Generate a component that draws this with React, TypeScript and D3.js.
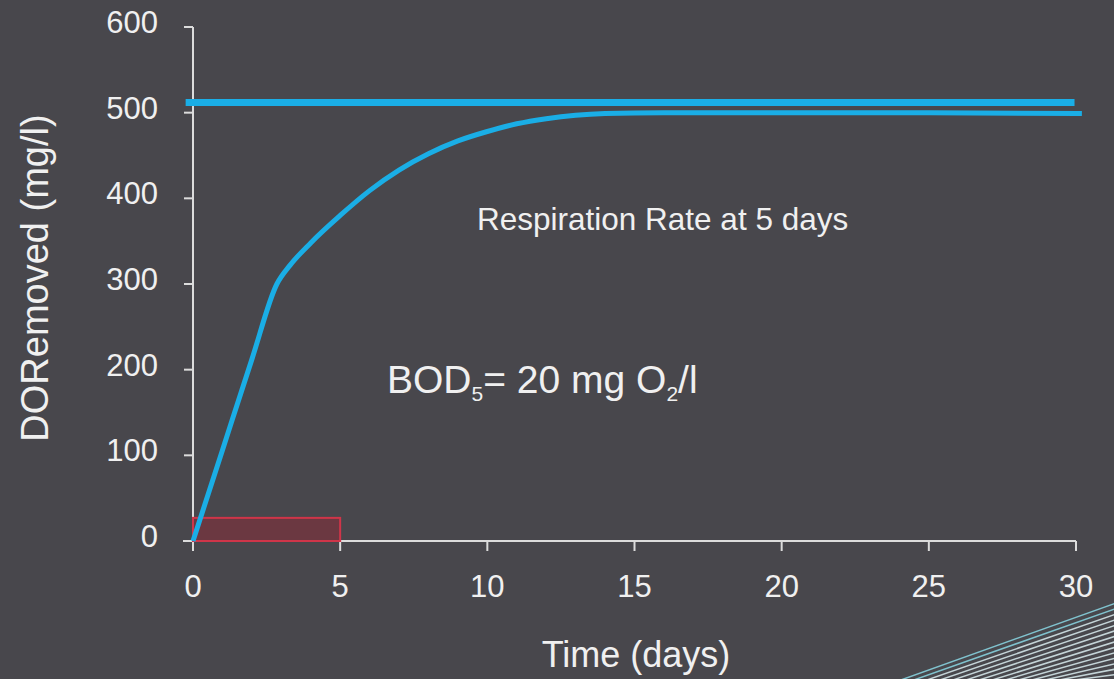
import React, { useEffect, useRef } from "react";
import * as d3 from "d3";

// --- Data
const days = [0, 1, 2, 2.85, 3.3, 4, 5, 6, 7, 8, 9, 10, 11, 12, 13, 14, 16, 20, 25, 30.2];
const doRemoved = [0, 106, 212, 300, 322, 348, 380, 409, 433, 452, 467, 478, 487, 493, 497, 499, 500, 500, 500, 499];
const ultimateLine = [512, 512];
const ultimateDays = [-0.25, 29.95];
const bodBox = { from: 0, to: 5, value: 27 };
const xTicks = [0, 5, 10, 15, 20, 25, 30];
const yTicks = [0, 100, 200, 300, 400, 500, 600];

const App: React.FC = () => {
  const ref = useRef<SVGSVGElement | null>(null);
  const width = 1114;
  const height = 679;

  useEffect(() => {
    if (!ref.current) return;
    document.body.style.margin = "0";
    const root = d3.select(ref.current);
    root.selectAll("*").remove();

    const font = "'Liberation Sans', Arial, Helvetica, sans-serif";
    const txt = "#f0f0f0";
    const blue = "#1aaee6";

    root.append("rect").attr("width", width).attr("height", height).attr("fill", "#48474c");

    const x = d3.scaleLinear().domain([0, 30]).range([193, 1076]);
    const y = d3.scaleLinear().domain([0, 600]).range([541, 27]);

    // --- decorative lines, bottom right
    const deco = root.append("g");
    deco
      .selectAll("line")
      .data(d3.range(16))
      .join("line")
      .attr("x1", (i) => 898 + i * 13)
      .attr("y1", height + 2)
      .attr("x2", width + 2)
      .attr("y2", (i) => 603 + i * 5.5)
      .attr("stroke", (i) => (i < 2 ? "#86cfdc" : "#d2e3e7"))
      .attr("stroke-opacity", 0.9)
      .attr("stroke-width", 1.5);

    // --- axes
    const axis = root.append("g").attr("stroke", "#dcdcdc").attr("stroke-width", 2);
    axis.append("line").attr("x1", x(0)).attr("x2", x(0)).attr("y1", y(600)).attr("y2", y(0) + 10);
    axis.append("line").attr("x1", x(0) - 10).attr("x2", x(30)).attr("y1", y(0)).attr("y2", y(0));
    axis
      .selectAll(".yt")
      .data(yTicks)
      .join("line")
      .attr("x1", x(0) - 9)
      .attr("x2", x(0))
      .attr("y1", (d) => y(d))
      .attr("y2", (d) => y(d));
    axis
      .selectAll(".xt")
      .data(xTicks)
      .join("line")
      .attr("x1", (d) => x(d))
      .attr("x2", (d) => x(d))
      .attr("y1", y(0))
      .attr("y2", y(0) + 10);

    root
      .append("g")
      .selectAll("text")
      .data(yTicks)
      .join("text")
      .attr("x", 158)
      .attr("y", (d) => y(d) - 5)
      .attr("dy", "0.35em")
      .attr("text-anchor", "end")
      .style("font-family", font)
      .style("font-size", "31px")
      .style("fill", txt)
      .text((d) => d);

    root
      .append("g")
      .selectAll("text")
      .data(xTicks)
      .join("text")
      .attr("x", (d) => x(d))
      .attr("y", 597)
      .attr("text-anchor", "middle")
      .style("font-family", font)
      .style("font-size", "31px")
      .style("fill", txt)
      .text((d) => d);

    // --- BOD5 box
    root
      .append("rect")
      .attr("x", x(bodBox.from))
      .attr("y", y(bodBox.value))
      .attr("width", x(bodBox.to) - x(bodBox.from))
      .attr("height", y(0) - y(bodBox.value))
      .attr("fill", "#72363f")
      .attr("fill-opacity", 0.85)
      .attr("stroke", "#cf3549")
      .attr("stroke-width", 2);

    // --- ultimate BOD line
    root
      .append("line")
      .attr("x1", x(ultimateDays[0]))
      .attr("x2", x(ultimateDays[1]))
      .attr("y1", y(ultimateLine[0]))
      .attr("y2", y(ultimateLine[1]))
      .attr("stroke", blue)
      .attr("stroke-width", 7);

    // --- BOD curve
    const line = d3
      .line<number>()
      .x((_, i) => x(days[i]))
      .y((d) => y(d))
      .curve(d3.curveMonotoneX);
    root
      .append("path")
      .datum(doRemoved)
      .attr("d", line)
      .attr("fill", "none")
      .attr("stroke", blue)
      .attr("stroke-width", 5);

    // --- labels
    root
      .append("text")
      .attr("x", 636)
      .attr("y", 667)
      .attr("text-anchor", "middle")
      .style("font-family", font)
      .style("font-size", "36px")
      .style("fill", txt)
      .text("Time (days)");

    root
      .append("text")
      .attr("transform", `translate(48, 278) rotate(-90)`)
      .attr("text-anchor", "middle")
      .style("font-family", font)
      .style("font-size", "38px")
      .style("fill", txt)
      .text("DORemoved (mg/l)");

    root
      .append("text")
      .attr("x", 477)
      .attr("y", 230)
      .style("font-family", font)
      .style("font-size", "31.5px")
      .style("fill", txt)
      .text("Respiration Rate at 5 days");

    const bod = root
      .append("text")
      .attr("x", 387)
      .attr("y", 393)
      .style("font-family", font)
      .style("font-size", "39px")
      .style("fill", txt);
    bod.append("tspan").text("BOD");
    bod.append("tspan").attr("dy", 8).style("font-size", "21px").text("5");
    bod.append("tspan").attr("dy", -8).text("= 20 mg O");
    bod.append("tspan").attr("dy", 8).style("font-size", "21px").text("2");
    bod.append("tspan").attr("dy", -8).text("/l");

    return () => {
      root.selectAll("*").remove();
    };
  }, []);

  return <svg ref={ref} width={width} height={height} style={{ display: "block" }}></svg>;
};

export default App;
